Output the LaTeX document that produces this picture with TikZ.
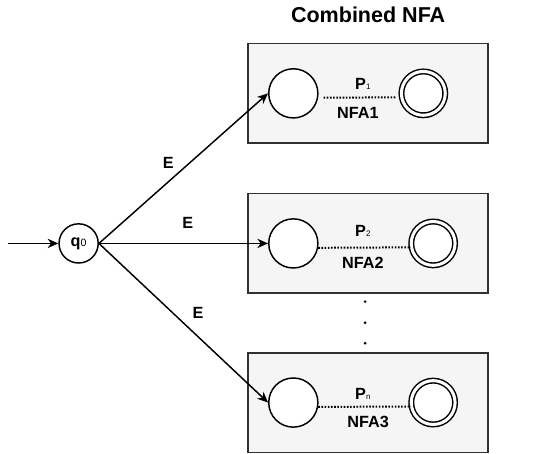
\documentclass[tikz,border=0pt]{standalone}
\usepackage{fontspec}
\setmainfont{Liberation Sans}
\usepackage{xcolor}
\usepackage{tikz}
\usetikzlibrary{arrows.meta, positioning, calc}
\definecolor{boxgray}{RGB}{245, 245, 245}
\definecolor{bordergray}{RGB}{50, 50, 50}

\tikzset{
    nfabox/.style={draw=bordergray, fill=boxgray, line width=1.2pt, minimum width=6.35cm, minimum height=2.63cm},
    startstate/.style={draw, circle, fill=white, line width=1.1pt, minimum size=37pt, inner sep=0pt},
    finalstate/.style={draw, circle, fill=white, line width=1.1pt, double, double distance=2.3pt, minimum size=33pt, inner sep=0pt},
    dotline/.style={line width=1.5pt, dash pattern=on 1.2pt off 1.2pt},
    trans/.style={line width=1.1pt, -{Stealth[length=8pt, width=7pt, inset=2.5pt]}},
    lbl/.style={font=\fontsize{12.2}{14}\selectfont\bfseries, inner sep=0pt}
}

\newcommand{\subsc}[1]{{\fontsize{6}{6}\selectfont\mdseries #1}}

\begin{document}
\begin{tikzpicture}
    \useasboundingbox (0,0) rectangle (14.26,-12.01);

    % Title
    \node[font=\fontsize{16.2}{18}\selectfont\bfseries] (title) at (9.74,-0.38) {Combined NFA};

    % Boxes
    \node[nfabox] (box1) at (9.74,-2.47) {};
    \node[nfabox] (box2) at (9.74,-6.43) {};
    \node[nfabox] (box3) at (9.74,-10.66) {};

    % NFA 1
    \node[startstate] (s1) at (7.76,-2.47) {};
    \node[finalstate] (f1) at (11.20,-2.47) {};
    \draw[dotline, shorten <=4pt, shorten >=4pt] (s1.-10) -- (f1.190);
    \node[lbl] (p1) at (9.60,-2.22) {P\subsc{1}};
    \node[lbl] (n1) at (9.47,-2.99) {NFA1};

    % NFA 2
    \node[startstate] (s2) at (7.76,-6.44) {};
    \node[finalstate] (f2) at (11.46,-6.44) {};
    \draw[dotline] (s2.-10) -- (f2.190);
    \node[lbl] (p2) at (9.60,-6.10) {P\subsc{2}};
    \node[lbl] (n2) at (9.60,-6.96) {NFA2};

    % NFA 3
    \node[startstate] (s3) at (7.76,-10.65) {};
    \node[finalstate] (f3) at (11.46,-10.65) {};
    \draw[dotline] (s3.-10) -- (f3.190);
    \node[lbl] (p3) at (9.60,-10.41) {P\subsc{n}};
    \node[lbl] (n3) at (9.74,-11.16) {NFA3};

    % Vertical dots
    \fill (9.66,-7.98) circle (1.1pt);
    \fill (9.66,-8.54) circle (1.1pt);
    \fill (9.66,-9.08) circle (1.1pt);

    % Initial state
    \node[draw, circle, line width=1.1pt, minimum size=29.5pt, inner sep=0pt, font=\fontsize{12.2}{14}\selectfont\bfseries] (q0) at (2.08,-6.44) {q\subsc{\fontsize{8}{8}\selectfont 0}};
    \coordinate (init) at (0.21,-6.44);
    \draw[trans] (init) -- (q0.west);

    % Epsilon transitions
    \draw[trans] (q0.east) -- (s1.west);
    \draw[trans] (q0.east) -- (s2.west);
    \draw[trans] (q0.east) -- (s3.west);
    \node[lbl] (e1) at (4.45,-4.32) {E};
    \node[lbl] (e2) at (4.97,-5.89) {E};
    \node[lbl] (e3) at (5.24,-8.29) {E};
\end{tikzpicture}
\end{document}
